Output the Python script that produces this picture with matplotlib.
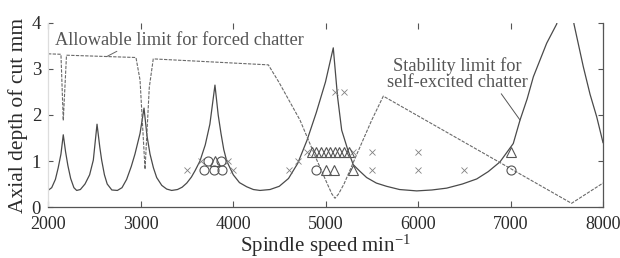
import matplotlib
matplotlib.use("Agg")
import matplotlib.pyplot as plt
import numpy as np

# ---------------- data ----------------
# Stability limit for self-excited chatter (solid)
stab_rpm = [2000, 2040, 2080, 2110, 2140, 2165, 2190, 2215, 2245, 2280, 2310,
            2350, 2400, 2450, 2490, 2530, 2560, 2580, 2610, 2640, 2690,
            2750, 2800, 2850, 2900, 2940, 2995, 3038, 3070, 3103, 3140, 3175,
            3230, 3283, 3337, 3400, 3450, 3500, 3550, 3590, 3643, 3700, 3750,
            3805, 3840, 3870, 3900, 3932, 4003, 4070, 4148, 4220, 4292,
            4400, 4500, 4600, 4700, 4800, 4900, 5000, 5084, 5130, 5175, 5240,
            5300, 5370, 5445, 5550, 5660, 5800, 5986, 6150, 6310, 6480, 6635,
            6760, 6886, 7030, 7103, 7180, 7247, 7320, 7391, 7500, 7560, 7640,
            7686, 7787, 7860, 7932, 8000]
stab_depth = [0.36, 0.42, 0.60, 0.85, 1.15, 1.57, 1.20, 0.90, 0.62, 0.42, 0.36,
              0.38, 0.50, 0.70, 1.02, 1.80, 1.30, 1.02, 0.70, 0.50, 0.37,
              0.36, 0.42, 0.60, 0.88, 1.15, 1.60, 2.15, 1.55, 1.15, 0.85, 0.64,
              0.47, 0.39, 0.36, 0.38, 0.43, 0.52, 0.65, 0.79, 1.00, 1.35, 1.80,
              2.65, 2.00, 1.60, 1.25, 1.00, 0.70, 0.53, 0.44, 0.38, 0.36,
              0.38, 0.45, 0.62, 0.95, 1.45, 2.05, 2.72, 3.46, 2.40, 1.67, 1.25,
              0.92, 0.78, 0.64, 0.52, 0.45, 0.38, 0.35, 0.37, 0.41, 0.50, 0.61,
              0.77, 0.98, 1.38, 1.89, 2.35, 2.83, 3.20, 3.56, 3.98, 5.00, 5.00,
              3.98, 3.05, 2.45, 1.96, 1.40]

# Allowable limit for forced chatter (dashed)
forced_rpm = [2000, 2140, 2165, 2200, 2951, 2995, 3049, 3095, 3138, 4382, 4500,
              4724, 4900, 5020, 5070, 5103, 5140, 5200, 5350, 5500, 5625,
              7660, 8000]
forced_depth = [3.33, 3.32, 1.88, 3.30, 3.25, 2.76, 0.82, 2.60, 3.22, 3.09, 2.70,
                1.89, 1.05, 0.50, 0.28, 0.19, 0.28, 0.50, 1.20, 1.89, 2.41,
                0.08, 0.52]

# Cutting test results
cross_rpm = [3500, 3650, 3950, 4000, 4600, 4700, 4800, 5100, 5200, 5300,
             5500, 5500, 6000, 6000, 6500]
cross_depth = [0.8, 1.0, 1.0, 0.8, 0.8, 1.0, 1.2, 2.5, 2.5, 1.2,
               1.2, 0.8, 1.2, 0.8, 0.8]
circle_rpm = [3725, 3875, 3690, 3790, 3880, 4900, 7000]
circle_depth = [1.0, 1.0, 0.8, 0.8, 0.8, 0.8, 0.8]
tri_rpm = [3800, 4850, 4900, 4950, 5000, 5050, 5100, 5150, 5200, 5250,
           5000, 5090, 5300, 7000]
tri_depth = [1.0, 1.2, 1.2, 1.2, 1.2, 1.2, 1.2, 1.2, 1.2, 1.2,
             0.8, 0.8, 0.8, 1.2]

x_ticks = [2000, 3000, 4000, 5000, 6000, 7000, 8000]
y_ticks = [0, 1, 2, 3, 4]

# ---------------- style ----------------
FONT = "Liberation Serif"
plt.rcParams["font.family"] = [FONT, "DejaVu Serif"]
plt.rcParams["mathtext.fontset"] = "custom"
plt.rcParams["mathtext.rm"] = FONT
plt.rcParams["mathtext.it"] = FONT + ":italic"

fig = plt.figure(figsize=(6.2, 2.58), dpi=100)
ax = fig.add_axes([48/620, 1-207/258, (603-48)/620, (207-23)/258])

line_c = "#4a4a4a"
ax.plot(stab_rpm, stab_depth, color=line_c, lw=0.9, solid_joinstyle="round")
ax.plot(forced_rpm, forced_depth, color="#6a6a6a", lw=0.8,
        linestyle=(0, (3.0, 1.2)))

ax.plot(cross_rpm, cross_depth, linestyle="none", marker="x", ms=4.2,
        mew=0.6, color="#808080")
ax.plot(circle_rpm, circle_depth, linestyle="none", marker="o", ms=6.5,
        mew=0.8, mfc="none", mec="#555555")
ax.plot(tri_rpm, tri_depth, linestyle="none", marker="^", ms=7,
        mew=0.8, mfc="none", mec="#555555")

ax.set_xlim(2000, 8000)
ax.set_ylim(0, 4)
ax.set_xticks(x_ticks)
ax.set_yticks(y_ticks)

ax.spines["top"].set_visible(False)
ax.spines["left"].set_color("#dddddd")
ax.spines["bottom"].set_color("#555555")
ax.spines["right"].set_color("#555555")
for s in ["left", "bottom", "right"]:
    ax.spines[s].set_linewidth(0.9)

ax.tick_params(axis="x", direction="in", top=True, bottom=True, length=4.5,
               width=0.8, color="#555555", labelsize=13, pad=6.5,
               labelcolor="#2a2a2a")
ax.tick_params(axis="y", direction="in", left=True, right=True, length=3.5,
               width=0.8, color="#555555", labelsize=13.5, pad=5,
               labelcolor="#2a2a2a")

ax.set_xlabel("Spindle speed min$^{-1}$", fontsize=15, color="#2a2a2a",
              labelpad=-0.5)
ax.set_ylabel("Axial depth of cut mm", fontsize=15.5, color="#2a2a2a",
              labelpad=3)

ax.annotate("Allowable limit for forced chatter", xy=(2635, 3.27),
            xytext=(2076, 3.63), textcoords="data", fontsize=13.2,
            color="#555555", ha="left", va="center",
            arrowprops=dict(arrowstyle="-", color="#666666", lw=0.7,
                            shrinkA=0, shrinkB=0, relpos=(0.27, 0.0)))
ax.annotate("Stability limit for\nself-excited chatter", xy=(7103, 1.89),
            xytext=(6422, 2.89), textcoords="data", fontsize=13.2,
            color="#555555", ha="center", va="center", linespacing=0.92,
            arrowprops=dict(arrowstyle="-", color="#555555", lw=0.7,
                            shrinkA=0, shrinkB=0, relpos=(0.80, 0.0)))

fig.savefig("out.png", dpi=100)
